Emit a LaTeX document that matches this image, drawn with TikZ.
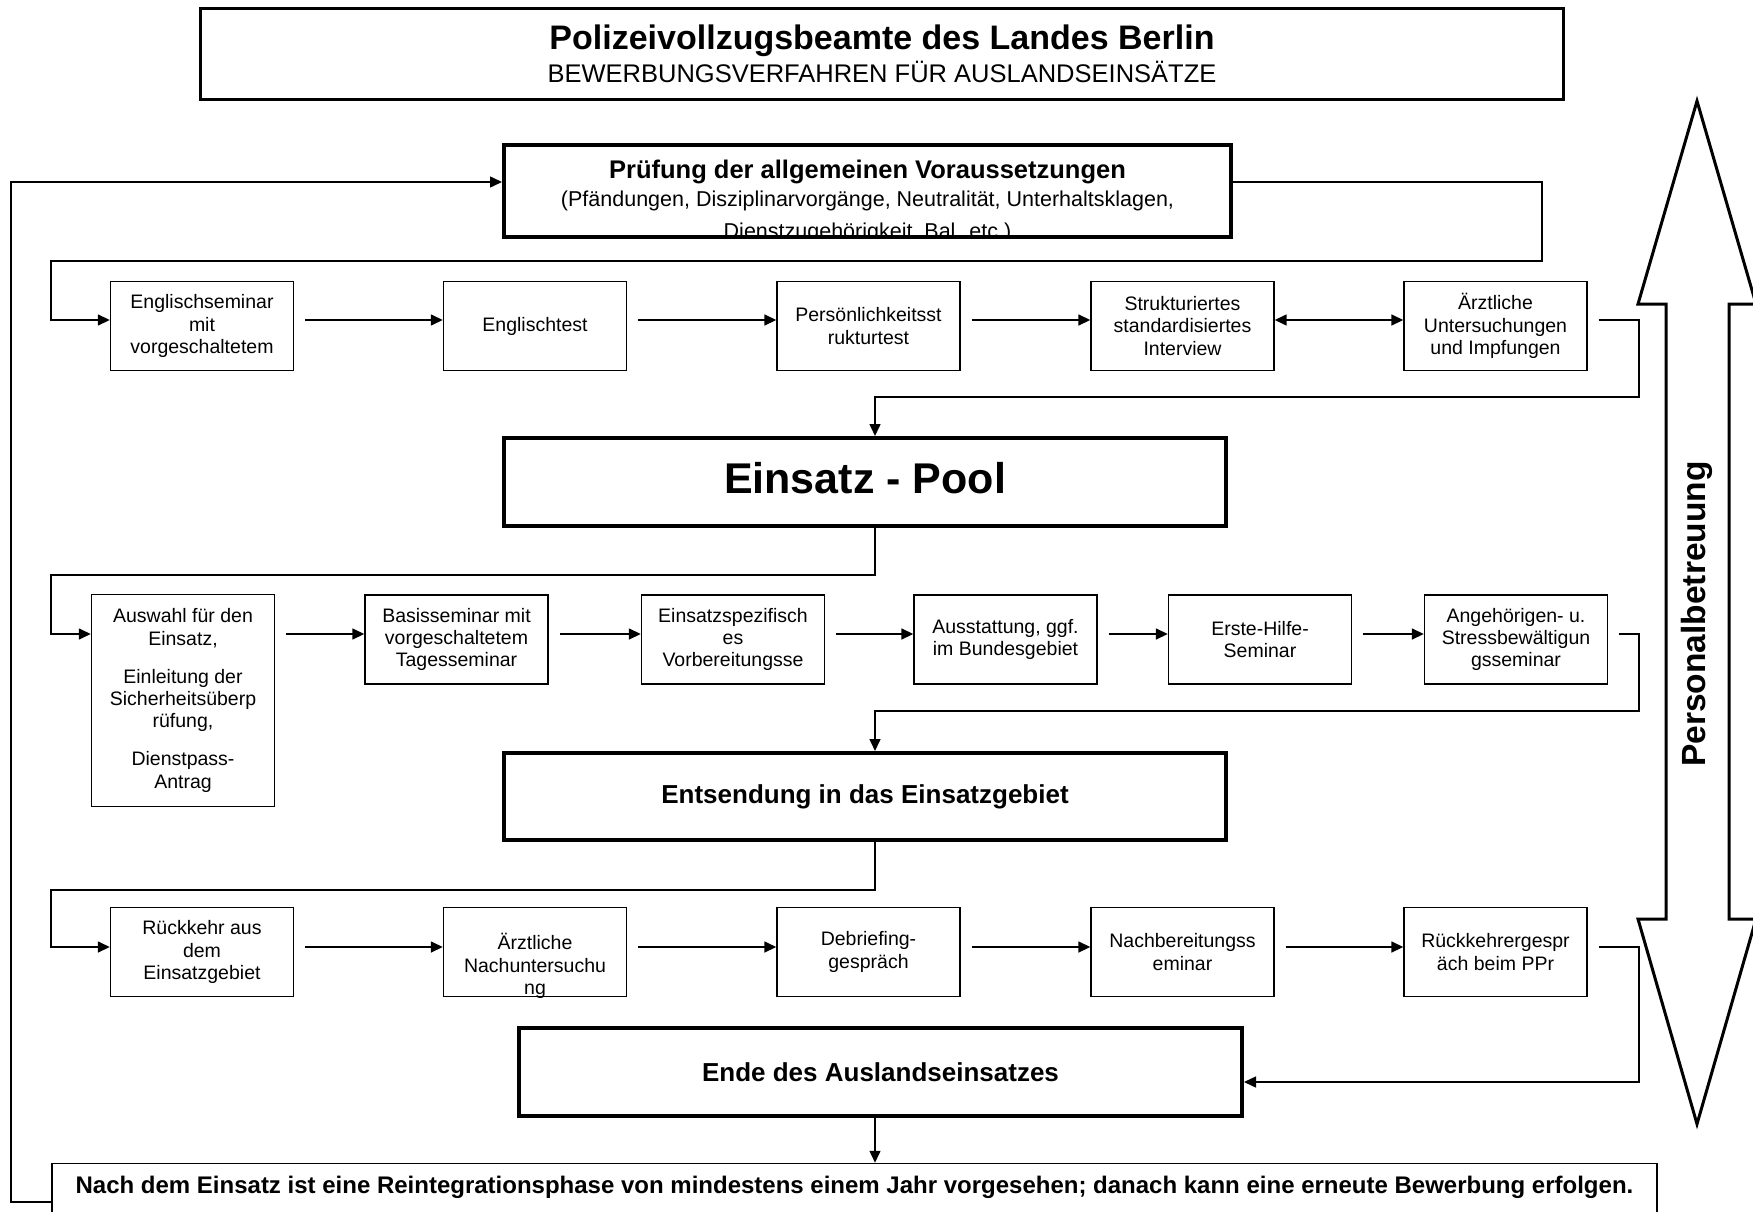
\documentclass[tikz,border=0pt]{standalone}
\usepackage{fontspec}
\setmainfont{Liberation Sans}
\usetikzlibrary{arrows.meta,calc}
\begin{document}
\begin{tikzpicture}[x=1pt,y=-1pt,
  conn/.style={line width=1.5pt},
  arr/.style={conn,-{Triangle[length=12pt,width=11pt]}},
  dblarr/.style={conn,{Triangle[length=12pt,width=11pt]}-{Triangle[length=12pt,width=11pt]}},
  smallbox/.style={draw,line width=1.4pt,minimum width=183pt,minimum height=89pt,inner sep=0pt,align=center,font=\fontsize{19.5}{22.4}\selectfont},
  thickbox/.style={draw,line width=4pt,inner sep=0pt,align=center},
  boxtext/.style={align=center,inner sep=0pt,font=\fontsize{19.5}{22.4}\selectfont}
]
\useasboundingbox (0,0) rectangle (1753,1212);
\clip (0,0) rectangle (1753,1212);
\coordinate (cx) at (875,0);

% title
\node[draw,line width=3pt,minimum width=1363pt,minimum height=91pt] (title) at (882,54) {};
\node[anchor=base,font=\fontsize{34}{37}\selectfont\bfseries] (titleA) at (882,50) {Polizeivollzugsbeamte des Landes Berlin};
\node[anchor=base,font=\fontsize{25.5}{28}\selectfont] (titleB) at (882,83) {BEWERBUNGSVERFAHREN FÜR AUSLANDSEINSÄTZE};

% Pruefung
\node[thickbox,minimum width=727pt,minimum height=92pt] (pruef) at (867.5,191) {};
\begin{scope}
\clip (504.5,145.5) rectangle (1230.5,236.5);
\node[anchor=base,font=\fontsize{25.5}{28}\selectfont\bfseries] (pruefA) at (867.5,178) {Prüfung der allgemeinen Voraussetzungen};
\node[anchor=base,font=\fontsize{21.5}{25}\selectfont] (pruefB) at (867.5,206) {(Pfändungen, Disziplinarvorgänge, Neutralität, Unterhaltsklagen,};
\node[anchor=base,font=\fontsize{21.5}{25}\selectfont] (pruefC) at (867.5,238.5) {Dienstzugehörigkeit, Bal. etc.)};
\end{scope}

% row 1
\node[smallbox] (e1) at (202,326) {Englischseminar\\mit\\vorgeschaltetem};
\node[smallbox] (e2) at (535,326) {Englischtest};
\node[smallbox] (e3) at (868.5,326) {Persönlichkeitsst\\rukturtest};
\node[smallbox] (e4) at (1182.5,326) {Strukturiertes\\standardisiertes\\Interview};
\node[smallbox] (e5) at (1495.5,326) {Ärztliche\\Untersuchungen\\und Impfungen};

% pool
\node[thickbox,minimum width=722pt,minimum height=88pt,font=\fontsize{43}{48}\selectfont\bfseries] (pool) at (865,482) {\raisebox{8pt}{Einsatz - Pool}};

% row 2
\node[smallbox,minimum height=212pt] (a1) at (183,700.5) {Auswahl für den\\Einsatz,\\[15.6pt]Einleitung der\\Sicherheitsüberp\\rüfung,\\[15.6pt]Dienstpass-\\Antrag};
\node[smallbox] (a2) at (456.5,639.5) {Basisseminar mit\\vorgeschaltetem\\Tagesseminar};
\node[smallbox] (a3) at (733,639.5) {Einsatzspezifisch\\es\\Vorbereitungsse};
\node[smallbox] (a4) at (1005.5,639.5) {Ausstattung, ggf.\\im Bundesgebiet};
\node[smallbox] (a5) at (1260,639.5) {Erste-Hilfe-\\Seminar};
\node[smallbox] (a6) at (1516,639.5) {Angehörigen- u.\\Stressbewältigun\\gsseminar};

% Entsendung
\node[thickbox,minimum width=722pt,minimum height=87pt,font=\fontsize{26}{29}\selectfont\bfseries] (ents) at (865,796.5) {Entsendung in das Einsatzgebiet};

% row 3
\node[smallbox] (r1) at (202,952) {Rückkehr aus\\dem\\Einsatzgebiet};
\node[smallbox] (r2) at (535,952) {};
\begin{scope}
\clip (r2.south west) rectangle (r2.north east);
\node[boxtext] (r2t) at (535,966) {Ärztliche\\Nachuntersuchu\\ng};
\end{scope}
\node[smallbox] (r3) at (868.5,952) {Debriefing-\\gespräch};
\node[smallbox] (r4) at (1182.5,952) {Nachbereitungss\\eminar};
\node[smallbox] (r5) at (1495.5,952) {Rückkehrergespr\\äch beim PPr};

% Ende
\node[thickbox,minimum width=723pt,minimum height=88pt,font=\fontsize{26}{29}\selectfont\bfseries] (ende) at (880.5,1072) {Ende des Auslandseinsatzes};

% final
\node[draw,line width=1.5pt,minimum width=1605pt,minimum height=77pt,inner sep=0pt] (final) at (854.5,1202) {};
\node[anchor=base,font=\fontsize{24}{26}\selectfont\bfseries] (finalT) at (854.5,1193) {Nach dem Einsatz ist eine Reintegrationsphase von mindestens einem Jahr vorgesehen; danach kann eine erneute Bewerbung erfolgen.};

% Personalbetreuung arrow
\draw[line width=3pt,fill=white] (1697,101) -- (1756,304) -- (1729,304) -- (1729,919) -- (1756,919) -- (1697,1124) -- (1638,919) -- (1666,919) -- (1666,304) -- (1638,304) -- cycle;
\node[rotate=90,font=\fontsize{33.5}{36}\selectfont\bfseries] (pers) at (1697,614) {Personalbetreuung};

% connectors
\draw[arr] (final.west) -- (11,1202) -- (11,182) -- (pruef.west |- 0,182);
\draw[arr] (pruef.east |- 0,182) -- (1542,182) -- (1542,261) -- (51,261) -- (51,320) -- ([yshift=6pt]e1.west);
\draw[arr] ([xshift=11pt,yshift=6pt]e1.east) -- ([yshift=6pt]e2.west);
\draw[arr] ([xshift=11pt,yshift=6pt]e2.east) -- ([yshift=6pt]e3.west);
\draw[arr] ([xshift=11pt,yshift=6pt]e3.east) -- ([yshift=6pt]e4.west);
\draw[dblarr] ([yshift=6pt]e4.east) -- ([yshift=6pt]e5.west);
\draw[arr] ([xshift=11pt,yshift=6pt]e5.east) -- (1639,320) -- (1639,397) -- (875,397) -- (pool.north -| cx);

\draw[arr] (pool.south -| cx) -- (875,575) -- (51,575) -- (51,634) -- (a1.west |- 0,634);
\draw[arr] ($(a1.east |- a2.west)+(11,-5.5)$) -- ([yshift=5.5pt]a2.west);
\draw[arr] ([xshift=11pt,yshift=5.5pt]a2.east) -- ([yshift=5.5pt]a3.west);
\draw[arr] ([xshift=11pt,yshift=5.5pt]a3.east) -- ([yshift=5.5pt]a4.west);
\draw[arr] ([xshift=11pt,yshift=5.5pt]a4.east) -- ([yshift=5.5pt]a5.west);
\draw[arr] ([xshift=11pt,yshift=5.5pt]a5.east) -- ([yshift=5.5pt]a6.west);
\draw[arr] ([xshift=11pt,yshift=5.5pt]a6.east) -- (1639,634) -- (1639,711) -- (875,711) -- (ents.north -| cx);

\draw[arr] (ents.south -| cx) -- (875,890) -- (51,890) -- (51,947) -- ([yshift=5pt]r1.west);
\draw[arr] ([xshift=11pt,yshift=5pt]r1.east) -- ([yshift=5pt]r2.west);
\draw[arr] ([xshift=11pt,yshift=5pt]r2.east) -- ([yshift=5pt]r3.west);
\draw[arr] ([xshift=11pt,yshift=5pt]r3.east) -- ([yshift=5pt]r4.west);
\draw[arr] ([xshift=11pt,yshift=5pt]r4.east) -- ([yshift=5pt]r5.west);
\draw[arr] ([xshift=11pt,yshift=5pt]r5.east) -- (1639,947) -- (1639,1082) -- (ende.east |- 0,1082);
\draw[arr] (ende.south -| cx) -- (final.north -| cx);
\end{tikzpicture}
\end{document}
